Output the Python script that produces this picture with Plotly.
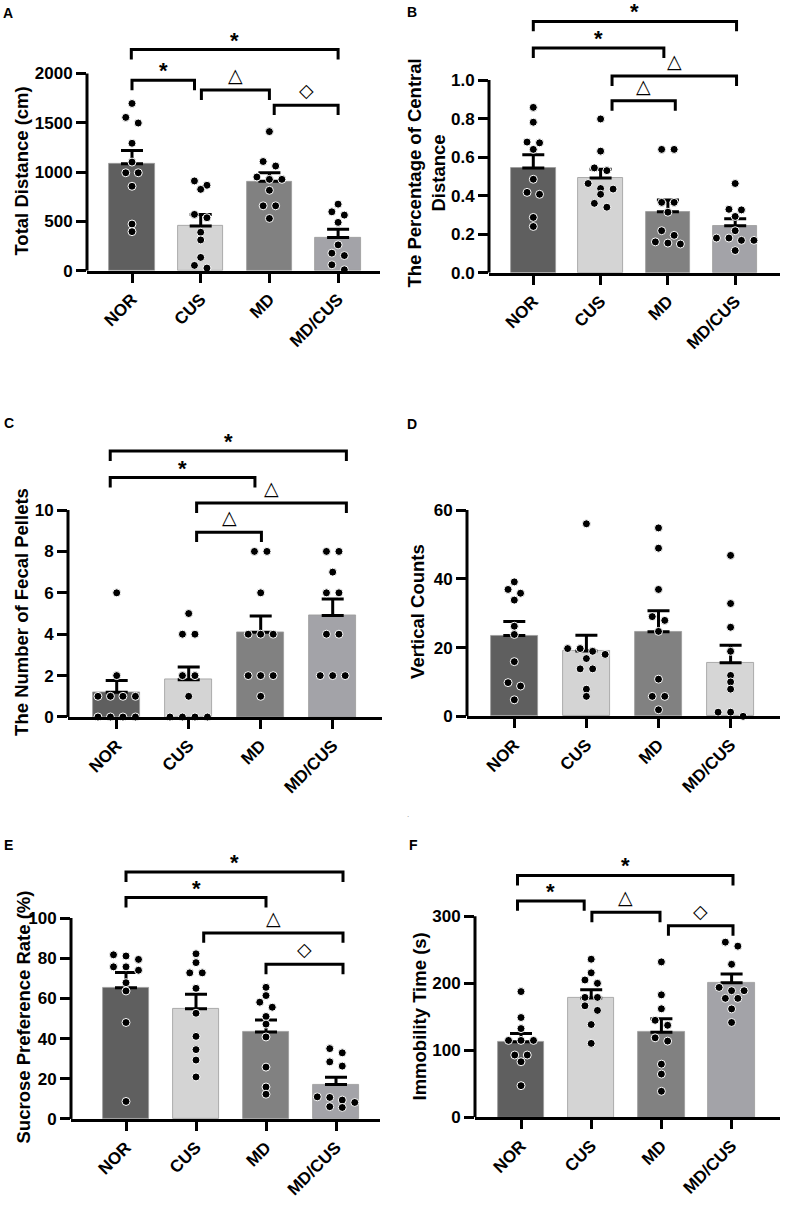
import plotly.graph_objects as go

W, H = 785, 1205
groups = ['NOR', 'CUS', 'MD', 'MD/CUS']

# A - total distance (cm)
a_nor = [1695, 1554, 1497, 1292, 1101, 993, 993, 856, 473, 396]
a_cus = [910, 866, 825, 571, 537, 390, 312, 135, 54, 27]
a_md = [1410, 1107, 1061, 950, 926, 926, 815, 658, 658, 530]
a_mdcus = [675, 597, 564, 490, 262, 178, 154, 60, 10]
a_mean = [1084, 453, 906, 336]
a_sem = [134, 118, 87, 84]
a_brackets = [(-0.01, 3.0, 2242, '*'), (0.0, 0.91, 1930, '*'),
              (1.01, 2.0, 1832, '△'), (2.07, 3.0, 1678, '◇')]

# B - percentage of central distance
b_nor = [0.858, 0.781, 0.678, 0.674, 0.640, 0.485, 0.417, 0.407, 0.287, 0.240]
b_cus = [0.798, 0.631, 0.544, 0.530, 0.463, 0.437, 0.434, 0.407, 0.360, 0.340]
b_md = [0.640, 0.640, 0.365, 0.365, 0.314, 0.218, 0.194, 0.160, 0.154, 0.149]
b_mdcus = [0.463, 0.329, 0.326, 0.292, 0.218, 0.180, 0.180, 0.168, 0.168, 0.115]
b_mean = [0.544, 0.492, 0.317, 0.244]
b_sem = [0.068, 0.045, 0.060, 0.036]
b_brackets = [(0.0, 3.02, 1.304, '*'), (0.0, 1.94, 1.166, '*'),
              (1.17, 3.02, 1.021, '△'), (1.17, 2.11, 0.892, '△')]

# C - fecal pellets
c_nor = [6, 2, 1, 1, 1, 1, 0, 0, 0, 0]
c_cus = [5, 4, 4, 2, 2, 1, 0, 0, 0, 0]
c_md = [8, 8, 6, 4, 4, 4, 2, 2, 2, 1]
c_mdcus = [8, 8, 7, 6, 6, 4, 4, 2, 2, 2]
c_mean = [1.2, 1.8, 4.1, 4.9]
c_sem = [0.56, 0.62, 0.78, 0.8]
c_brackets = [(-0.09, 3.19, 12.85, '*'), (-0.09, 1.92, 11.57, '*'),
              (1.11, 3.19, 10.34, '△'), (1.11, 2.01, 8.93, '△')]

# D - vertical counts
d_nor = [39.1, 36.9, 35.8, 33.8, 26.2, 23.8, 15.9, 9.8, 8.8, 4.8]
d_cus = [56, 19.7, 19.7, 18.9, 18.0, 16.8, 13.8, 13.8, 7.9, 5.8]
d_md = [54.8, 48.9, 36.9, 29.0, 27.9, 24.7, 10.8, 5.8, 5.8, 1.9]
d_mdcus = [46.8, 32.8, 25.9, 18.9, 11.9, 10.0, 7.9, 1.2, 1.2, 0]
d_mean = [23.5, 19.0, 24.6, 15.6]
d_sem = [4.1, 4.6, 6.1, 5.1]
d_brackets = []

# E - sucrose preference rate (%)
e_nor = [81.7, 81.1, 79.4, 75.7, 75.7, 74.0, 67.8, 63.7, 48.0, 8.7]
e_cus = [82.2, 77.8, 72.7, 72.7, 65.0, 52.6, 41.1, 34.5, 29.3, 20.9]
e_md = [65.5, 61.4, 58.1, 55.6, 51.0, 47.2, 40.8, 25.8, 15.9, 12.3]
e_mdcus = [35.0, 32.9, 28.4, 26.3, 11.0, 10.7, 9.4, 8.2, 6.1, 5.7]
e_mean = [65.3, 54.8, 43.3, 17.2]
e_sem = [7.6, 7.2, 6.0, 3.6]
e_brackets = [(0.0, 3.1, 122.9, '*'), (0.0, 2.0, 110.2, '*'),
              (1.11, 3.1, 92.6, '△'), (2.0, 3.1, 77.0, '◇')]

# F - immobility time (s)
f_nor = [187.7, 149, 132.5, 114.8, 114.8, 114.8, 93, 93, 83, 47.3]
f_cus = [236, 215.7, 205, 200, 179, 179, 166.5, 159.6, 138.5, 110.4]
f_md = [232, 182.8, 162, 144.8, 137.4, 118.7, 113.8, 79.4, 64.6, 38.9]
f_mdcus = [261.5, 255.5, 228.4, 193.9, 189, 189, 177.6, 177.6, 161.8, 141.6]
f_mean = [113, 178, 127, 201]
f_sem = [12, 12.5, 20, 13]
f_brackets = [(-0.05, 3.02, 361, '*'), (-0.05, 0.9, 323, '*'),
              (1.01, 1.98, 306, '△'), (2.1, 3.02, 286, '◇')]

grey4 = ['#5f5f5f', '#d4d4d4', '#818181', '#a3a3a8']
grey4_d = ['#5f5f5f', '#d4d4d4', '#818181', '#d6d6d6']

panels = [
    dict(letter='A', title='Total Distance (cm)', pts=[a_nor, a_cus, a_md, a_mdcus],
         mean=a_mean, sem=a_sem, br=a_brackets, ticks=[0, 500, 1000, 1500, 2000], fmt='{:g}',
         colors=grey4, left=87, right=380, zero=273, tick_px=74, top=30, cat0=132, step=68.7,
         title_xy=(22, 173), letter_xy=(8, 13)),
    dict(letter='B', title='The Percentage of Central<br>Distance', pts=[b_nor, b_cus, b_md, b_mdcus],
         mean=b_mean, sem=b_sem, br=b_brackets, ticks=[0, 0.2, 0.4, 0.6, 0.8, 1.0], fmt='{:.1f}',
         colors=grey4, left=489, right=780, zero=275, tick_px=80.7, top=10, cat0=533.3, step=67.3,
         title_xy=(427, 175), letter_xy=(412, 12)),
    dict(letter='C', title='The Number of Fecal Pellets', pts=[c_nor, c_cus, c_md, c_mdcus],
         mean=c_mean, sem=c_sem, br=c_brackets, ticks=[0, 2, 4, 6, 8, 10], fmt='{:g}',
         colors=grey4, left=68, right=382, zero=723, tick_px=514.3, top=440, cat0=116.7, step=72,
         title_xy=(22, 617), letter_xy=(9, 427)),
    dict(letter='D', title='Vertical Counts', pts=[d_nor, d_cus, d_md, d_mdcus],
         mean=d_mean, sem=d_sem, br=d_brackets, ticks=[0, 20, 40, 60], fmt='{:g}',
         colors=grey4_d, left=467, right=780, zero=722.3, tick_px=514.3, top=500, cat0=514.3, step=72.1,
         title_xy=(418, 617), letter_xy=(412, 428)),
    dict(letter='E', title='Sucrose Preference Rate (%)', pts=[e_nor, e_cus, e_md, e_mdcus],
         mean=e_mean, sem=e_sem, br=e_brackets, ticks=[0, 20, 40, 60, 80, 100], fmt='{:g}',
         colors=grey4, left=71, right=380, zero=1128.3, tick_px=925.7, top=865, cat0=126, step=70,
         title_xy=(23, 1026), letter_xy=(8, 852)),
    dict(letter='F', title='Immobility Time (s)', pts=[f_nor, f_cus, f_md, f_mdcus],
         mean=f_mean, sem=f_sem, br=f_brackets, ticks=[0, 100, 200, 300], fmt='{:g}',
         colors=grey4, left=475, right=780, zero=1126.7, tick_px=924, top=868, cat0=521, step=70.2,
         title_xy=(419, 1025), letter_xy=(413, 852)),
]

FONT = 'Liberation Sans, Arial, sans-serif'
LW = 3


def swarm(vals, center, unit_px, cat_px, gap=6.5, step=12.5):
    # Prism-like scatter: points within one dot height share a row and spread sideways
    order = sorted(range(len(vals)), key=lambda i: -vals[i])
    xs = [center] * len(vals)
    rows, row = [], []
    for i in order:
        if row and (vals[row[0]] - vals[i]) * unit_px >= gap:
            rows.append(row)
            row = []
        row.append(i)
    rows.append(row)
    for row in rows:
        n = len(row)
        for k, i in enumerate(row):
            xs[i] = center + (k - (n - 1) / 2) * step / cat_px
    return xs


fig = go.Figure()
shapes, annotations = [], []

for n, p in enumerate(panels, start=1):
    xa = 'x' if n == 1 else f'x{n}'
    ya = 'y' if n == 1 else f'y{n}'
    unit_px = (p['zero'] - p['tick_px']) / p['ticks'][-1]
    ytop = (p['zero'] - p['top']) / unit_px
    xr = [(p['left'] - p['cat0']) / p['step'], (p['right'] - p['cat0']) / p['step']]

    fig.add_trace(go.Bar(
        x=[0, 1, 2, 3], y=p['mean'], width=0.66, xaxis=xa, yaxis=ya,
        marker=dict(color=p['colors'], line=dict(color='#9a9a9a', width=0.8)),
        error_y=dict(type='data', symmetric=False, array=p['sem'], arrayminus=[0, 0, 0, 0],
                     color='black', thickness=LW, width=11),
        hoverinfo='skip'))
    for g, vals in enumerate(p['pts']):
        fig.add_trace(go.Scatter(
            x=swarm(vals, g, unit_px, p['step']), y=vals, mode='markers', xaxis=xa, yaxis=ya,
            marker=dict(color='black', size=8, line=dict(color='white', width=1)),
            cliponaxis=False, hoverinfo='skip'))

    fig.update_layout({
        ('xaxis' if n == 1 else f'xaxis{n}'): dict(
            domain=[p['left'] / W, p['right'] / W], range=xr, anchor=ya,
            tickvals=[0, 1, 2, 3], ticktext=groups, tickangle=-45,
            showline=True, linecolor='black', linewidth=LW, ticks='outside',
            ticklen=9, tickwidth=LW, tickcolor='black', showgrid=False, zeroline=False,
            tickfont=dict(family=FONT, size=17, color='black', weight='bold')),
        ('yaxis' if n == 1 else f'yaxis{n}'): dict(
            domain=[1 - p['zero'] / H, 1 - p['top'] / H], range=[0, ytop], anchor=xa,
            tickvals=p['ticks'], ticktext=[p['fmt'].format(t) for t in p['ticks']],
            showline=False, ticks='outside', ticklen=10, tickwidth=LW, tickcolor='black',
            showgrid=False, zeroline=False,
            tickfont=dict(family=FONT, size=17, color='black', weight='bold')),
    })

    # y axis line only up to the last tick
    shapes.append(dict(type='line', xref=f'{xa} domain', yref=ya, x0=0, x1=0,
                       y0=0, y1=p['ticks'][-1], line=dict(color='black', width=LW)))

    leg = 10 / unit_px
    for x0, x1, yb, label in p['br']:
        shapes.append(dict(type='path', xref=xa, yref=ya,
                           path=f'M {x0},{yb - leg} L {x0},{yb} L {x1},{yb} L {x1},{yb - leg}',
                           line=dict(color='black', width=LW)))
        if label == '*':
            font = dict(family=FONT, size=22, color='black', weight='bold')
            shift = 9.5
        else:
            font = dict(family='DejaVu Sans', size=19, color='black')
            shift = 15
        annotations.append(dict(x=(x0 + x1) / 2, y=yb, xref=xa, yref=ya, text=label,
                                showarrow=False, yanchor='middle', yshift=shift, font=font))

    tx, ty = p['title_xy']
    annotations.append(dict(x=tx / W, y=1 - ty / H, xref='paper', yref='paper',
                            text=p['title'], textangle=-90, showarrow=False,
                            xanchor='center', yanchor='middle',
                            font=dict(family=FONT, size=18.5, color='black', weight='bold')))
    lx, ly = p['letter_xy']
    annotations.append(dict(x=lx / W, y=1 - ly / H, xref='paper', yref='paper',
                            text=p['letter'], showarrow=False, xanchor='center', yanchor='middle',
                            font=dict(family=FONT, size=14, color='black', weight='bold')))

annotations.append(dict(x=408 / W, y=1 - 828 / H, xref='paper', yref='paper', text='.',
                        showarrow=False, font=dict(family=FONT, size=8, color='#888888')))

fig.update_layout(
    width=W, height=H, margin=dict(l=0, r=0, t=0, b=0),
    paper_bgcolor='white', plot_bgcolor='white', showlegend=False,
    bargap=0, shapes=shapes, annotations=annotations)

# the page body has an 8px default margin; drop it so the figure sits at the window corner
fig.write_html('out.html', config={'displayModeBar': False},
               post_script="document.body.style.margin='0';")
